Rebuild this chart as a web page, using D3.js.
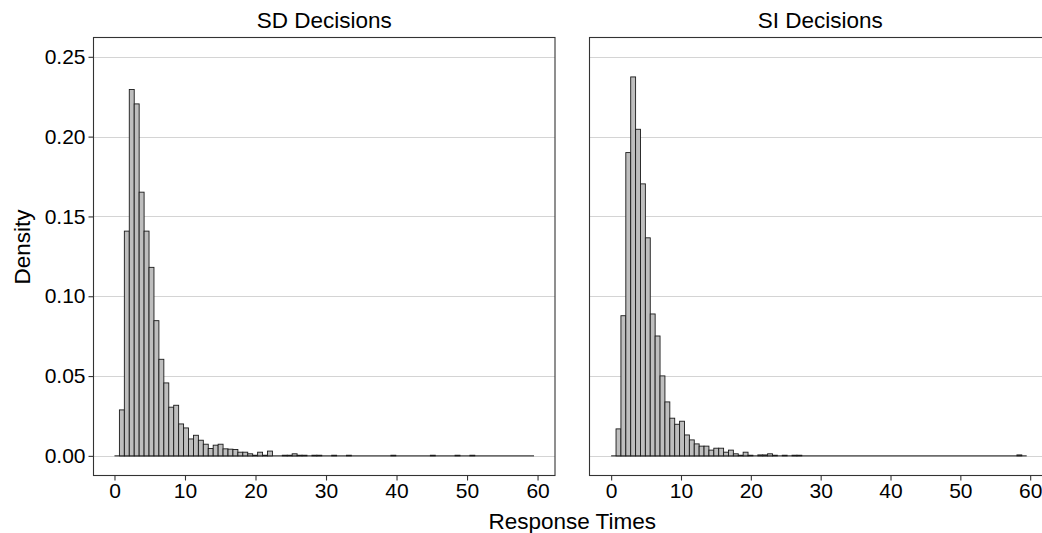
<!DOCTYPE html>
<html>
<head>
<meta charset="utf-8">
<script src="https://cdn.jsdelivr.net/npm/d3@7"></script>
<style>
  body { margin: 0; background: #fff; }
  text { font-family: "Liberation Sans", Arial, sans-serif; fill: #000; }
</style>
</head>
<body>
<div id="chart"></div>
<script>
// histogram bins: start at 0, width 0.7 (85 bins)
var binWidth = 0.7;
var binCount = 85;

var sdDensity = [
    0, 0.0288, 0.1408, 0.2295, 0.2205, 0.1652, 0.1408, 0.1181, 0.0847, 0.0605,
    0.0457, 0.0305, 0.0317, 0.0200, 0.0175, 0.0106, 0.0129, 0.0098, 0.0073, 0.0046,
    0.0067, 0.0073, 0.0044, 0.0042, 0.0040, 0.0023, 0.0023, 0.0013, 0.0004, 0.0023,
    0.0004, 0.0030, 0, 0, 0.0004, 0.0004, 0.0013, 0.0004, 0.0004, 0,
    0.0004, 0.0004, 0, 0, 0.0004, 0, 0, 0.0004, 0, 0,
    0, 0, 0, 0, 0, 0, 0.0004, 0, 0, 0,
    0, 0, 0, 0, 0.0004, 0, 0, 0, 0, 0.0004,
    0, 0, 0.0004, 0, 0, 0, 0, 0, 0, 0,
    0, 0, 0, 0, 0
];

var siDensity = [
    0, 0.0169, 0.0878, 0.1900, 0.2374, 0.2046, 0.1704, 0.1366, 0.0889, 0.0751,
    0.0501, 0.0338, 0.0236, 0.0198, 0.0217, 0.0131, 0.0100, 0.0075, 0.0061, 0.0061,
    0.0036, 0.0048, 0.0048, 0.0023, 0.0036, 0.0013, 0.0004, 0.0023, 0.0004, 0,
    0.0006, 0.0006, 0.0013, 0.0004, 0, 0.0004, 0, 0.0004, 0.0004, 0,
    0, 0, 0, 0, 0, 0, 0, 0, 0, 0,
    0, 0, 0, 0, 0, 0, 0, 0, 0, 0,
    0, 0, 0, 0, 0, 0, 0, 0, 0, 0,
    0, 0, 0, 0, 0, 0, 0, 0, 0, 0,
    0, 0, 0, 0.0006, 0
];

var panelTitles = ["SD Decisions", "SI Decisions"];
var xTicks = [0, 10, 20, 30, 40, 50, 60];
var yTicks = [0, 0.05, 0.10, 0.15, 0.20, 0.25];

var width = 1042,
    height = 533;

var panelTop = 37.5,
    panelBottom = 475.5,
    panelWidth = 461.5,
    panelLefts = [93.5, 589.5];

// x scale domains per panel (free x scales)
var xDomains = [[-2.975, 62.475], [-3.1, 62.98]];

var svg = d3.select("#chart")
    .append("svg")
    .attr("width", width)
    .attr("height", height);

var y = d3.scaleLinear()
    .domain([-0.0123, 0.2621])
    .range([panelBottom, panelTop]);

function drawPanel(i, values) {
    var left = panelLefts[i];
    var x = d3.scaleLinear()
        .domain(xDomains[i])
        .range([left, left + panelWidth]);

    var g = svg.append("g").attr("class", "panel");

    // grid lines
    g.selectAll(".grid")
        .data(yTicks)
        .enter()
        .append("line")
        .attr("x1", left)
        .attr("x2", left + panelWidth)
        .attr("y1", d => Math.round(y(d)) + 0.5)
        .attr("y2", d => Math.round(y(d)) + 0.5)
        .style("stroke", "#d4d4d4")
        .style("stroke-width", 1);

    // zero height bins show as a line along the base
    g.append("line")
        .attr("x1", x(0))
        .attr("x2", x(binWidth * binCount))
        .attr("y1", y(0))
        .attr("y2", y(0))
        .style("stroke", "#1a1a1a")
        .style("stroke-width", 1);

    var bins = values.map(function(v, k) {
        return { x0: k * binWidth, x1: (k + 1) * binWidth, density: v };
    }).filter(d => d.density > 0);

    g.selectAll(".bar")
        .data(bins)
        .enter()
        .append("rect")
        .attr("class", "bar")
        .attr("x", d => x(d.x0))
        .attr("width", d => x(d.x1) - x(d.x0))
        .attr("y", d => y(d.density))
        .attr("height", d => y(0) - y(d.density))
        .style("fill", "#bebebe")
        .style("stroke", "#1a1a1a")
        .style("stroke-width", 0.9);

    // panel border
    g.append("rect")
        .attr("x", left)
        .attr("y", panelTop)
        .attr("width", panelWidth)
        .attr("height", panelBottom - panelTop)
        .style("fill", "none")
        .style("stroke", "#333")
        .style("stroke-width", 1.1);

    // x axis
    var xAxis = d3.axisBottom(x)
        .tickValues(xTicks)
        .tickSize(5)
        .tickPadding(3)
        .tickFormat(d3.format("d"));

    var xg = svg.append("g")
        .attr("transform", "translate(0," + panelBottom + ")")
        .call(xAxis);
    xg.select(".domain").remove();
    xg.selectAll(".tick line").style("stroke", "#333").style("stroke-width", 1.1);
    xg.selectAll(".tick text")
        .style("font-size", "21px")
        .style("font-family", "Liberation Sans, Arial, sans-serif")
        .style("fill", "#000");

    // title
    svg.append("text")
        .attr("x", left + panelWidth / 2)
        .attr("y", 28)
        .attr("text-anchor", "middle")
        .style("font-size", "22.5px")
        .text(panelTitles[i]);
}

drawPanel(0, sdDensity);
drawPanel(1, siDensity);

// y axis, left panel only
var yAxis = d3.axisLeft(y)
    .tickValues(yTicks)
    .tickSize(5)
    .tickPadding(3)
    .tickFormat(d3.format(".2f"));

var yg = svg.append("g")
    .attr("transform", "translate(" + panelLefts[0] + ",0)")
    .call(yAxis);
yg.select(".domain").remove();
yg.selectAll(".tick line").style("stroke", "#333").style("stroke-width", 1.1);
yg.selectAll(".tick text")
    .style("font-size", "21px")
    .style("font-family", "Liberation Sans, Arial, sans-serif")
    .style("fill", "#000");

// axis titles
svg.append("text")
    .attr("x", (panelLefts[0] + panelLefts[1] + panelWidth) / 2)
    .attr("y", 529)
    .attr("text-anchor", "middle")
    .style("font-size", "22.5px")
    .text("Response Times");

svg.append("text")
    .attr("transform", "translate(30,247) rotate(-90)")
    .attr("text-anchor", "middle")
    .style("font-size", "22.5px")
    .text("Density");
</script>
</body>
</html>
